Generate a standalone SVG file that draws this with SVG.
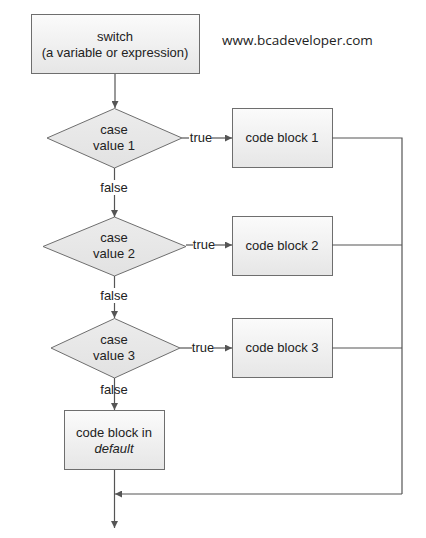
<svg xmlns="http://www.w3.org/2000/svg" width="426" height="538" viewBox="0 0 426 538">
<style>
.box{fill:url(#g);stroke:#6e6e6e;stroke-width:1}
.dia{fill:url(#gd);stroke:#6e6e6e;stroke-width:1}
.t{font-family:"Liberation Sans",Arial,sans-serif;font-size:13px;fill:#222;text-anchor:middle}
.c{fill:none;stroke:#555;stroke-width:1.2}
</style>
<defs>
<linearGradient id="g" x1="0" y1="0" x2="0" y2="1"><stop offset="0" stop-color="#fbfbfb"/><stop offset="1" stop-color="#e6e6e6"/></linearGradient>
<linearGradient id="gd" x1="0" y1="0" x2="0" y2="1"><stop offset="0" stop-color="#ececec"/><stop offset="1" stop-color="#e2e2e2"/></linearGradient>
<marker id="a" viewBox="0 0 10 10" refX="10" refY="5" markerWidth="7" markerHeight="7" markerUnits="userSpaceOnUse" orient="auto"><path d="M0,0 L10,5 L0,10 z" fill="#555"/></marker>
</defs>
<rect width="426" height="538" fill="#fff"/>
<text x="222" y="45" style="font-family:'Open Sans',sans-serif;font-size:13.5px;fill:#222">www.bcadeveloper.com</text>
<g id="switch"><rect class="box" x="31.5" y="14.5" width="168" height="59"/><text class="t" x="115" y="41">switch</text><text class="t" x="115" y="57">(a variable or expression)</text></g>
<g id="case1"><polygon class="dia" points="114.5,108.5 182,138 114.5,168 47,138"/><text class="t" x="114" y="134">case</text><text class="t" x="114" y="150">value 1</text></g>
<g id="case2"><polygon class="dia" points="114.5,217 186,246.5 114.5,276 43,246.5"/><text class="t" x="114" y="242">case</text><text class="t" x="114" y="258">value 2</text></g>
<g id="case3"><polygon class="dia" points="114.5,318.5 180,348 114.5,378 51,348"/><text class="t" x="114" y="344">case</text><text class="t" x="114" y="360">value 3</text></g>
<g id="block1"><rect class="box" x="232.5" y="108.5" width="100" height="59"/><text class="t" x="282" y="142">code block 1</text></g>
<g id="block2"><rect class="box" x="232.5" y="216.5" width="100" height="59"/><text class="t" x="282" y="250">code block 2</text></g>
<g id="block3"><rect class="box" x="232.5" y="318.5" width="100" height="59"/><text class="t" x="282" y="352">code block 3</text></g>
<g id="default"><rect class="box" x="64.5" y="410.5" width="100" height="59"/><text class="t" x="114" y="437">code block in</text><text class="t" x="114" y="453" font-style="italic">default</text></g>
<g id="connectors">
<line class="c" x1="115" y1="74" x2="115" y2="108" marker-end="url(#a)"/>
<line class="c" x1="114.5" y1="168" x2="114.5" y2="180"/>
<line class="c" x1="114.5" y1="195" x2="114.5" y2="217" marker-end="url(#a)"/>
<line class="c" x1="114.5" y1="276" x2="114.5" y2="288"/>
<line class="c" x1="114.5" y1="303" x2="114.5" y2="318" marker-end="url(#a)"/>
<line class="c" x1="114.5" y1="378" x2="114.5" y2="410" marker-end="url(#a)"/>
<line class="c" x1="182" y1="138" x2="189" y2="138"/>
<line class="c" x1="212" y1="138" x2="232" y2="138" marker-end="url(#a)"/>
<line class="c" x1="186" y1="245" x2="193" y2="245"/>
<line class="c" x1="215" y1="245" x2="232" y2="245" marker-end="url(#a)"/>
<line class="c" x1="180" y1="348" x2="192" y2="348"/>
<line class="c" x1="214" y1="348" x2="232" y2="348" marker-end="url(#a)"/>
<polyline class="c" points="332,138 402,138 402,494"/>
<line class="c" x1="332" y1="245" x2="402" y2="245"/>
<line class="c" x1="332" y1="348" x2="402" y2="348"/>
<line class="c" x1="402" y1="494" x2="115" y2="494" marker-end="url(#a)"/>
<line class="c" x1="114.5" y1="470" x2="114.5" y2="528" marker-end="url(#a)"/>
<text class="t" x="201" y="142">true</text>
<text class="t" x="204" y="249">true</text>
<text class="t" x="203" y="352">true</text>
<text class="t" x="114" y="192">false</text>
<text class="t" x="114" y="300">false</text>
<text class="t" x="114" y="394">false</text>
</g>
</svg>
